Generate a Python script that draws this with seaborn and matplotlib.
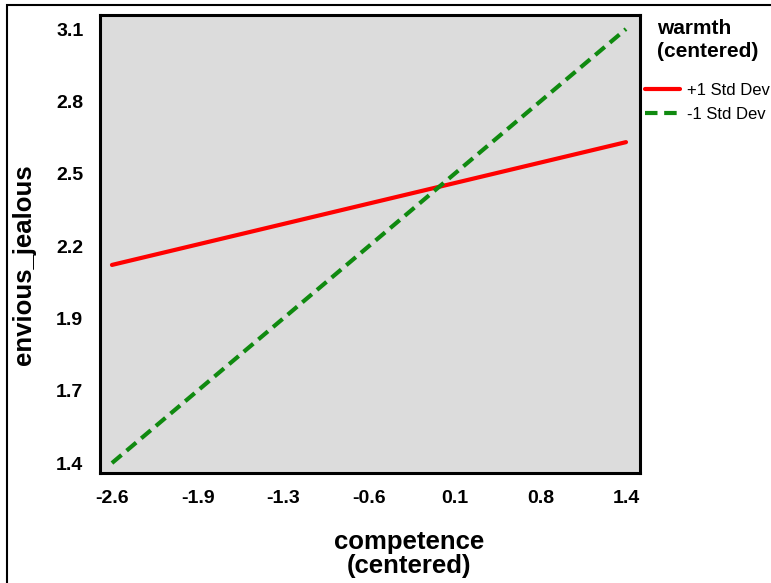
import numpy as np
import pandas as pd
import matplotlib
matplotlib.use('Agg')
import matplotlib.pyplot as plt
import seaborn as sns
from matplotlib.patches import Rectangle

sns.set_style('white')
plt.rcParams['font.family'] = ['Liberation Sans', 'DejaVu Sans']
plt.rcParams['text.color'] = 'black'
plt.rcParams['xtick.color'] = 'black'
plt.rcParams['ytick.color'] = 'black'

# --- data ---
competence = [-2.6, 1.4]
plus_sd = [2.176, 2.657]
minus_sd = [1.4, 3.1]
series_names = ['+1 Std Dev', '-1 Std Dev']
x_tick_labels = ['-2.6', '-1.9', '-1.3', '-0.6', '0.1', '0.8', '1.4']
y_tick_labels = ['1.4', '1.7', '1.9', '2.2', '2.5', '2.8', '3.1']

df = pd.DataFrame({
    'competence': competence * 2,
    'envious_jealous': plus_sd + minus_sd,
    'warmth': [series_names[0]] * 2 + [series_names[1]] * 2,
})

W, H = 771, 583
fig = plt.figure(figsize=(W / 100, H / 100), dpi=100)
ax = fig.add_axes([100 / W, 1 - 473 / H, 540 / W, 458 / H])
ax.set_facecolor('#dcdcdc')

sns.lineplot(data=df, x='competence', y='envious_jealous', hue='warmth', style='warmth',
             palette={series_names[0]: '#ff0000', series_names[1]: '#108a10'},
             dashes={series_names[0]: '', series_names[1]: (3, 1.6)},
             linewidth=3, ax=ax, legend=False)

ax.set_xlim(-2.693, 1.509)
ax.set_ylim(1.361, 3.155)
ax.set_xticks(np.linspace(-2.6, 1.4, 7))
ax.set_xticklabels(x_tick_labels)
ax.set_yticks(np.linspace(1.4, 3.1, 7))
ax.set_yticklabels(y_tick_labels)
ax.tick_params(axis='both', direction='out', length=7, width=2, labelsize=14, pad=5)
for lab in ax.get_xticklabels() + ax.get_yticklabels():
    lab.set_fontweight('bold')
for sp in ax.spines.values():
    sp.set_linewidth(2.2)
    sp.set_color('black')
ax.set_xlabel('')
ax.set_ylabel('')

fig.text(409 / W, 1 - 554 / H, 'competence\n(centered)', ha='center', va='center',
         fontsize=18.5, fontweight='bold', linespacing=1.0)
fig.text(24 / W, 1 - 265 / H, 'envious_jealous', ha='center', va='center',
         rotation=90, fontsize=18.5, fontweight='bold')

# legend drawn by hand outside the plot
fig.text(657 / W, 1 - 40 / H, 'warmth\n(centered)', ha='left', va='center',
         fontsize=15, fontweight='bold', linespacing=1.3)
handles = [plt.Line2D([], [], color='#ff0000', lw=3),
           plt.Line2D([], [], color='#108a10', lw=3, dashes=(3, 1.6))]
fig.legend(handles, series_names, loc='upper left', bbox_to_anchor=(638 / W, 1 - 76 / H),
           frameon=False, fontsize=12, handlelength=2.1, handletextpad=0.45,
           labelspacing=0.55, borderaxespad=0)

fig.patches.append(Rectangle((7 / W, -0.05), 1.2, 1 - 5 / H + 0.05, transform=fig.transFigure,
                             fill=False, edgecolor='black', linewidth=1.5))

fig.savefig('out.png', dpi=100, facecolor='white')
